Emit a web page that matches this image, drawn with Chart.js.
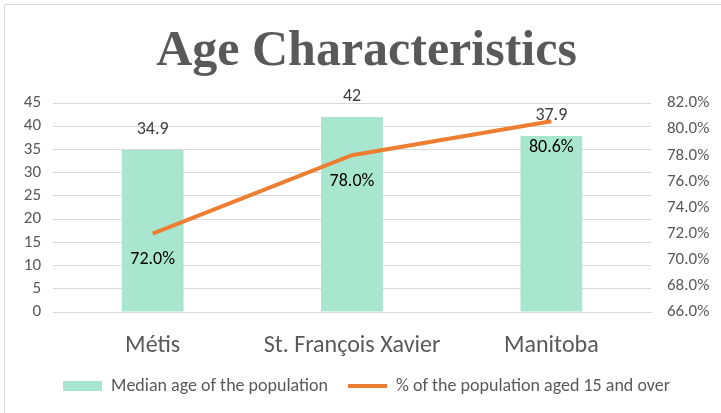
<!DOCTYPE html>
<html>
<head>
<meta charset="utf-8">
<title>Age Characteristics</title>
<script src="https://cdn.jsdelivr.net/npm/chart.js@4"></script>
<style>
  html,body{margin:0;padding:0;background:#fff;}
  .wrap{position:relative;width:721px;height:413px;overflow:hidden;}
  .frame{position:absolute;left:4px;top:4px;width:740px;height:430px;border:1px solid #d9d9d9;box-sizing:border-box;}
  canvas{position:absolute;left:0;top:0;}
</style>
</head>
<body>
<div class="wrap">
  <div class="frame"></div>
  <canvas id="chart" width="721" height="413"></canvas>
</div>
<script>
const categories = ['Métis', 'St. François Xavier', 'Manitoba'];
const medianAge = [34.9, 42, 37.9];
const pctOver15 = [72.0, 78.0, 80.6];
const seriesNames = ['Median age of the population', '% of the population aged 15 and over'];

const textFont = 'Carlito, Calibri, "Open Sans", sans-serif';
const grey = '#595959';

// draws the value labels, like Excel data labels
const valueLabels = {
  id: 'valueLabels',
  afterDatasetsDraw(chart){
    const ctx = chart.ctx;
    ctx.save();
    ctx.font = '18px ' + textFont;
    ctx.textAlign = 'center';
    ctx.textBaseline = 'middle';
    chart.getDatasetMeta(0).data.forEach((bar,i)=>{
      ctx.fillStyle = '#404040';
      ctx.fillText(String(medianAge[i]), bar.x, bar.y - 20);
    });
    chart.getDatasetMeta(1).data.forEach((pt,i)=>{
      ctx.fillStyle = '#000';
      ctx.fillText(pctOver15[i].toFixed(1) + '%', pt.x, pt.y + 26);
    });
    ctx.restore();
  }
};

const ctx = document.getElementById('chart').getContext('2d');
new Chart(ctx, {
  data: {
    labels: categories,
    datasets: [
      {type:'bar', label: seriesNames[0], data: medianAge, backgroundColor:'#a8e6d0', borderWidth:0,
       yAxisID:'y', categoryPercentage:1, barPercentage:0.31, pointStyle:'rect', order:2},
      {type:'line', label: seriesNames[1], data: pctOver15, borderColor:'#ed7d31', backgroundColor:'#ed7d31',
       borderWidth:4, pointRadius:0, pointStyle:'line', yAxisID:'y1', tension:0, order:1}
    ]
  },
  options: {
    responsive:false,
    animation:false,
    layout:{padding:{top:10, left:12, right:0, bottom:8}},
    plugins:{
      title:{display:true, text:'Age Characteristics', color:grey,
        font:{family:'"Liberation Serif", serif', size:50, weight:'bold'}, padding:{top:12, bottom:21}},
      legend:{position:'bottom', labels:{color:grey, font:{family:textFont, size:18},
        usePointStyle:true, pointStyleWidth:39, boxHeight:10, padding:20,
        sort:(a,b)=>a.datasetIndex-b.datasetIndex}},
      tooltip:{enabled:false}
    },
    scales:{
      x:{grid:{display:false}, border:{color:'#d9d9d9'},
        ticks:{color:grey, font:{family:textFont, size:24}, padding:12},
        afterFit(s){ s.height = 45; }},
      y:{position:'left', min:0, max:45,
        ticks:{stepSize:5, autoSkip:false, color:grey, font:{family:textFont, size:17}, padding:12},
        grid:{color:'#d9d9d9', drawTicks:false}, border:{display:false},
        afterFit(s){ s.width = 41; }},
      y1:{position:'right', min:66, max:82,
        ticks:{stepSize:2, autoSkip:false, color:grey, font:{family:textFont, size:17}, padding:16, callback:v=>v.toFixed(1)+'%'},
        grid:{display:false, drawTicks:false}, border:{display:false},
        afterFit(s){ s.width = 70; }}
    }
  },
  plugins:[valueLabels]
});
</script>
</body>
</html>
